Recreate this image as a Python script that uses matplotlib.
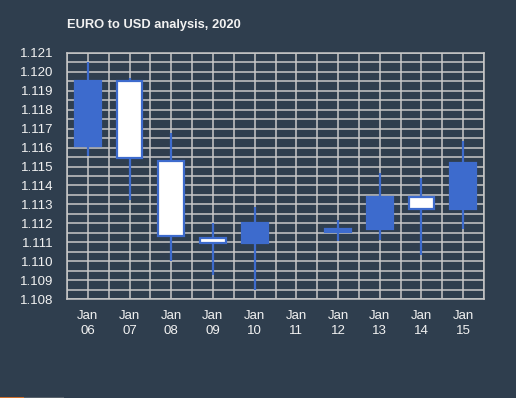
import matplotlib
matplotlib.use("Agg")
import matplotlib.pyplot as plt
import numpy as np
from matplotlib.ticker import MultipleLocator, FixedLocator
from matplotlib.patches import Rectangle

plt.rcParams['font.family'] = ['Liberation Sans', 'DejaVu Sans']

dates = ["Jan\n06", "Jan\n07", "Jan\n08", "Jan\n09", "Jan\n10",
         "Jan\n11", "Jan\n12", "Jan\n13", "Jan\n14", "Jan\n15"]
opens  = [1.11606, 1.11950, 1.11531, 1.11122, 1.11094, np.nan, 1.11152, 1.11168, 1.11341, 1.11277]
closes = [1.11950, 1.11545, 1.11134, 1.11096, 1.11199, np.nan, 1.11171, 1.11341, 1.11277, 1.11520]
highs  = [1.12050, 1.11968, 1.11677, 1.11202, 1.11286, np.nan, 1.11219, 1.11466, 1.11439, 1.11633]
lows   = [1.11554, 1.11321, 1.11002, 1.10925, 1.10845, np.nan, 1.11108, 1.11113, 1.11034, 1.11171]

BG = "#2F3E4E"
BLUE = "#3D6BCD"
GRID = "#C8C8C8"
TXT = "#F2F2F2"

fig = plt.figure(figsize=(5.16, 3.98), dpi=100, facecolor=BG)
ax = fig.add_axes([67/516, (398-299)/398, 417/516, 246/398], facecolor=BG)

x = np.arange(len(dates))
o = np.array(opens); c = np.array(closes); h = np.array(highs); l = np.array(lows)
valid = ~np.isnan(o)
xv = x[valid]; o = o[valid]; c = c[valid]; h = h[valid]; l = l[valid]
rising = c >= o
lo_b = np.minimum(o, c); hi_b = np.maximum(o, c)

ax.vlines(xv, l, h, color=BLUE, linewidth=1.6, zorder=3)
ax.bar(xv, hi_b - lo_b, bottom=lo_b, width=0.62,
       color=[BLUE if r else "white" for r in rising],
       edgecolor=BLUE, linewidth=1.6, zorder=4)

ax.set_xlim(-0.5, len(dates) - 0.5)
ax.set_ylim(1.108, 1.121)
ax.xaxis.set_major_locator(FixedLocator(x))
ax.xaxis.set_minor_locator(FixedLocator(np.arange(-0.5, len(dates), 1.0)))
ax.set_xticklabels(dates)
ax.yaxis.set_major_locator(MultipleLocator(0.001))
ax.yaxis.set_minor_locator(MultipleLocator(0.0005))
ax.yaxis.set_major_formatter(matplotlib.ticker.FormatStrFormatter('%.3f'))

ax.grid(True, which='both', color=GRID, linewidth=1.1, zorder=1)
ax.set_axisbelow(True)
for s in ax.spines.values():
    s.set_color(GRID)
    s.set_linewidth(1.1)

ax.tick_params(axis='both', which='both', length=0, colors=TXT, labelsize=9.5)
ax.tick_params(axis='y', pad=10)
ax.tick_params(axis='x', pad=8)
for t in ax.get_xticklabels():
    t.set_linespacing(1.3)

fig.text(67/516, 1 - 25/398, "EURO to USD analysis, 2020", color=TXT,
         fontsize=9.3, fontweight='bold', ha='left', va='center')

# small strip at the bottom-left edge of the reference image
fig.patches.append(Rectangle((0, 0), 24/516, 1.5/398, transform=fig.transFigure,
                             facecolor="#D0702C", edgecolor='none'))
fig.patches.append(Rectangle((24/516, 0), 40/516, 1.5/398, transform=fig.transFigure,
                             facecolor="#58626C", edgecolor='none'))

fig.savefig("out.png", dpi=100, facecolor=BG)
